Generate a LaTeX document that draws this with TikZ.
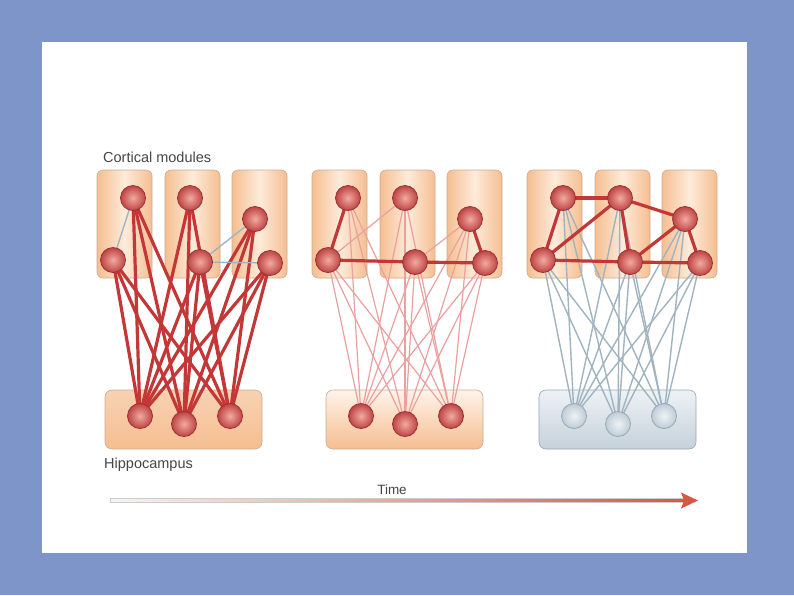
\documentclass[tikz,border=0pt]{standalone}
\usepackage{fontspec}
\setmainfont{Liberation Sans}
\usetikzlibrary{calc}
\definecolor{bgblue}{RGB}{125,149,200}
\definecolor{modorange}{RGB}{245,190,145}
\definecolor{modlight}{RGB}{253,235,218}
\definecolor{modedge}{RGB}{205,170,145}
\definecolor{cellred}{RGB}{190,68,68}
\definecolor{cellhi}{RGB}{242,170,160}
\definecolor{celledge}{RGB}{155,50,50}
\definecolor{cellgrey}{RGB}{190,204,214}
\definecolor{greyhi}{RGB}{238,242,245}
\definecolor{greyedge}{RGB}{150,166,178}
\definecolor{linkred}{RGB}{195,55,55}
\definecolor{linkpink}{RGB}{235,160,160}
\definecolor{linkgrey}{RGB}{160,180,192}
\definecolor{arrowred}{RGB}{214,88,66}
\definecolor{labelgrey}{RGB}{70,70,70}
\pgfdeclarelayer{frame}
\pgfdeclarelayer{back}
\pgfdeclarelayer{edges}
\pgfsetlayers{frame,back,edges,main}

\begin{document}
\begin{tikzpicture}[x=1pt, y=-1pt,
  module/.style={draw=modedge, line width=0.6pt, rounded corners=6pt,
    minimum width=55pt, minimum height=108pt, inner sep=0pt,
    left color=modorange, right color=modorange, middle color=modlight},
  hippo/.style={draw=modedge, line width=0.6pt, rounded corners=7pt,
    minimum width=157pt, minimum height=59pt, inner sep=0pt},
  hippoA/.style={hippo, top color=modorange!70, bottom color=modorange},
  hippoB/.style={hippo, top color=modlight!60, bottom color=modorange},
  hippoC/.style={hippo, draw=greyedge, top color=greyhi, bottom color=cellgrey!90},
  ball/.style={circle, minimum size=25pt, inner sep=0pt, line width=0.8pt},
  redball/.style={ball, draw=celledge, inner color=cellhi, outer color=cellred},
  greyball/.style={ball, draw=greyedge, inner color=greyhi, outer color=cellgrey},
  strong/.style={linkred, line width=3.2pt},
  faint/.style={linkpink, line width=1.2pt},
  silent/.style={linkgrey, line width=1.4pt},
  txt/.style={text=labelgrey, font=\fontsize{14.5}{16}\selectfont, inner sep=0pt}]
  \useasboundingbox (0,0) rectangle (794,595);

  % Frame
  \begin{pgfonlayer}{frame}
    \fill[bgblue] (0,0) rectangle (794,595);
    \fill[white] (42,42) rectangle (747,553);
  \end{pgfonlayer}

  % Panels
  \foreach \p/\dx/\hx/\hb/\link/\hc in {
    1/0/0/hippoA/strong/redball,
    2/215/221/hippoB/faint/redball,
    3/430/434/hippoC/silent/greyball}{
    \begin{pgfonlayer}{back}
      \node[module] (p\p-ma) at ({124.5+\dx},224) {};
      \node[module] (p\p-mb) at ({192.5+\dx},224) {};
      \node[module] (p\p-mc) at ({259.5+\dx},224) {};
      \node[\hb] (p\p-hip) at ({183.5+\hx},419.5) {};
    \end{pgfonlayer}
    \foreach \n/\x/\y in {a1/133/198, a2/113/260, b1/190/198,
                          b2/200/262, c1/255/219, c2/270/263}
      \node[redball] (p\p-\n) at ({\x+\dx},\y) {};
    \foreach \n/\x/\y in {h1/140/416, h2/184/424, h3/230/416}
      \node[\hc] (p\p-\n) at ({\x+\hx},\y) {};
    \begin{pgfonlayer}{edges}
      \foreach \c in {a1,a2,b1,b2,c1,c2}
        \foreach \h in {h1,h2,h3}
          \draw[\link] (p\p-\c.center) -- (p\p-\h.center);
    \end{pgfonlayer}
  }

  % Links inside the cortex
  \begin{pgfonlayer}{edges}
    \foreach \u/\v in {a1/a2, b2/c1, b2/c2}
      \draw[silent] (p1-\u.center) -- (p1-\v.center);
    \foreach \u/\v in {a2/b1, b2/c1}
      \draw[faint] (p2-\u.center) -- (p2-\v.center);
    \foreach \u/\v in {a1/a2, a2/b2, b2/c2, c1/c2}
      \draw[strong] (p2-\u.center) -- (p2-\v.center);
    \foreach \u/\v in {a1/b1, b1/c1, a1/a2, a2/b1, a2/b2,
                       b1/b2, b2/c1, b2/c2, c1/c2}
      \draw[strong] (p3-\u.center) -- (p3-\v.center);
  \end{pgfonlayer}

  % Labels
  \node[txt, anchor=west] (cortlbl) at (103,157) {Cortical modules};
  \node[txt, anchor=west] (hipplbl) at (104,465) {Hippocampus};
  \node[txt, font=\fontsize{13.5}{15}\selectfont] (timelbl) at (392,490) {Time};

  % Time arrow
  \coordinate (tstart) at (110,500.5);
  \coordinate (tend) at (698,500.5);
  \shade[left color=black!4, right color=arrowred, draw=black!20, line width=0.3pt]
    ($(tstart)+(0,-1.9)$) rectangle ($(tend)+(-13,1.9)$);
  \fill[arrowred] (tend) -- ++(-17,-8) -- ++(3,8) -- ++(-3,8) -- cycle;
\end{tikzpicture}
\end{document}
